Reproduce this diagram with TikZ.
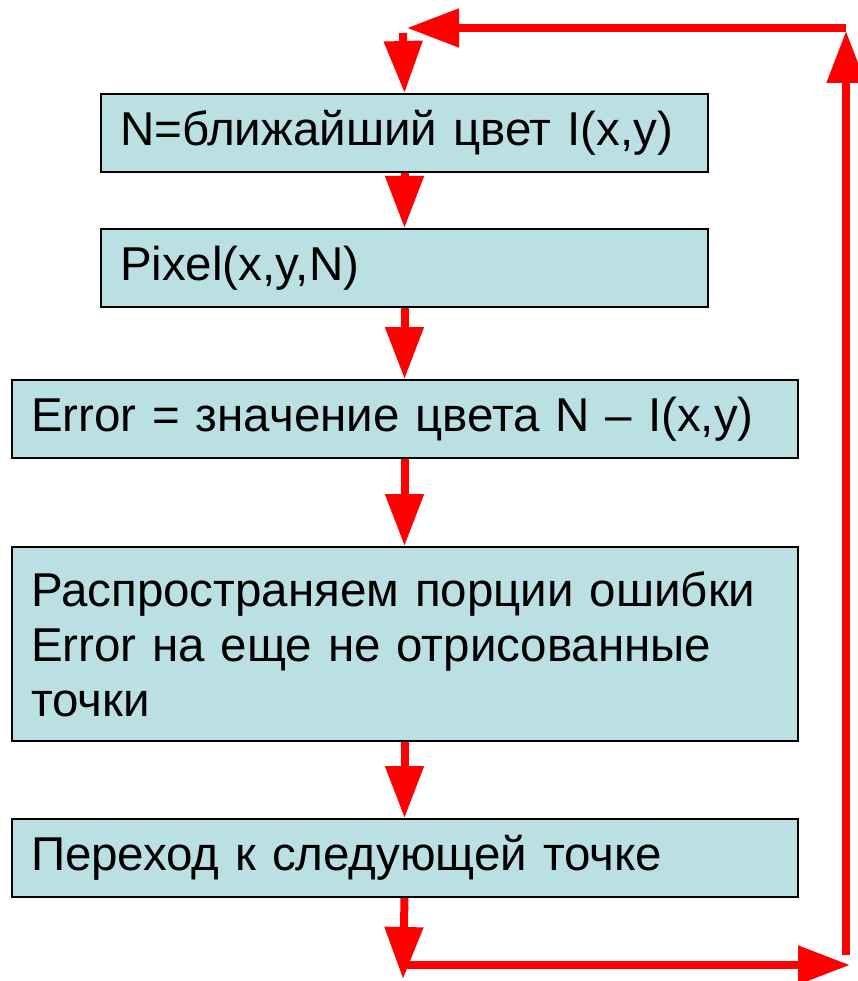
\documentclass[tikz,border=0pt]{standalone}
\usepackage{fontspec}
\setmainfont{Liberation Sans}
\usetikzlibrary{arrows.meta}
\definecolor{boxfill}{HTML}{BBE0E3}
\begin{document}
\begin{tikzpicture}[x=1pt,y=-1pt,
  box/.style={draw=black,line width=2pt,fill=boxfill,anchor=north west,
    inner xsep=19pt,inner ysep=0pt,align=left,
    font=\fontsize{47.5}{55}\selectfont},
  flow/.style={draw=red,line width=8pt,-{Triangle[width=37pt,length=52pt]}}]
\useasboundingbox (0,0) rectangle (858,981);
\node[box,minimum width=607pt,minimum height=78pt,text width=569pt] (b1) at (100,93) {N=ближайший цвет I(x,y)};
\node[box,minimum width=607pt,minimum height=78pt,text width=569pt] (b2) at (100,228) {Pixel(x,y,N)};
\node[box,minimum width=786pt,minimum height=78pt,text width=748pt] (b3) at (11,379) {Error = значение цвета N – I(x,y)};
\node[box,minimum width=786pt,minimum height=194pt,text width=748pt] (b4) at (11,546) {Распространяем порции ошибки\\Error на еще не отрисованные\\точки};
\node[box,minimum width=786pt,minimum height=78pt,text width=748pt] (b5) at (11,818) {Переход к следующей точке};
\coordinate (t0) at (403,33);
\coordinate (bend) at (403,979);
\coordinate (hs) at (403,965);
\coordinate (he) at (850,965);
\coordinate (vs) at (846,955);
\coordinate (ve) at (846,31);
\coordinate (ts) at (846,28);
\coordinate (te) at (407,28);
\draw[flow] (t0) -- (b1.north);
\draw[flow] (b1.south) -- (b2.north);
\draw[flow] (b2.south) -- (b2.south |- b3.north);
\draw[flow] (b2.south |- b3.south) -- (b2.south |- b4.north);
\draw[flow] (b2.south |- b4.south) -- (b2.south |- b5.north);
\draw[flow] (b2.south |- b5.south) -- (bend);
\draw[flow] (hs) -- (he);
\draw[flow] (vs) -- (ve);
\draw[flow] (ts) -- (te);
\end{tikzpicture}
\end{document}
